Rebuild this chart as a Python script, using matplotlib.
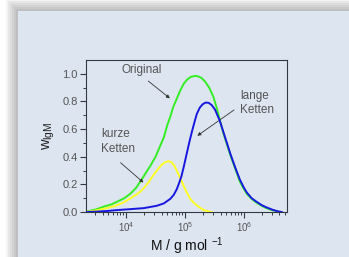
import matplotlib
matplotlib.use('Agg')
import matplotlib.pyplot as plt
import numpy as np
from matplotlib.patches import Rectangle

plt.rcParams['font.family'] = ['Liberation Sans', 'DejaVu Sans']
plt.rcParams['mathtext.default'] = 'regular'

# lg(M) positions and w values
lg_orig = [3.32, 3.40, 3.50, 3.63, 3.75, 3.85, 3.97, 4.08, 4.17, 4.25, 4.33, 4.42, 4.50,
           4.58, 4.64, 4.70, 4.75, 4.80, 4.86, 4.92, 4.98, 5.04, 5.10, 5.17, 5.22, 5.28,
           5.34, 5.41, 5.48, 5.54, 5.59, 5.65, 5.71, 5.77, 5.82, 5.88, 5.93, 6.00, 6.05,
           6.13, 6.21, 6.30, 6.38, 6.48, 6.58, 6.62]
w_orig = [0.0, 0.01, 0.02, 0.04, 0.055, 0.075, 0.10, 0.135, 0.175, 0.225, 0.28, 0.34, 0.40,
          0.48, 0.54, 0.63, 0.69, 0.76, 0.82, 0.88, 0.93, 0.96, 0.978, 0.985, 0.982, 0.97,
          0.944, 0.90, 0.835, 0.75, 0.667, 0.57, 0.49, 0.41, 0.35, 0.28, 0.22, 0.165, 0.13,
          0.095, 0.068, 0.045, 0.028, 0.013, 0.003, 0.0]

lg_lang = [3.32, 3.50, 3.70, 3.85, 4.05, 4.30, 4.52, 4.64, 4.75, 4.81, 4.86, 4.90, 4.94,
           4.98, 5.03, 5.07, 5.11, 5.16, 5.20, 5.25, 5.30, 5.35, 5.40, 5.45, 5.51, 5.55,
           5.59, 5.65, 5.71, 5.77, 5.82, 5.88, 5.93, 6.00, 6.05, 6.13, 6.21, 6.30, 6.38,
           6.48, 6.58, 6.64]
w_lang = [0.0, 0.003, 0.008, 0.014, 0.02, 0.028, 0.045, 0.062, 0.095, 0.125, 0.165, 0.21,
          0.26, 0.33, 0.425, 0.50, 0.57, 0.65, 0.71, 0.755, 0.78, 0.792, 0.79, 0.775, 0.74,
          0.70, 0.66, 0.58, 0.50, 0.42, 0.36, 0.29, 0.235, 0.175, 0.14, 0.10, 0.075, 0.05,
          0.034, 0.017, 0.004, 0.0]

lg_kurz = [3.32, 3.40, 3.50, 3.63, 3.75, 3.85, 3.97, 4.08, 4.17, 4.24, 4.305, 4.38, 4.46,
           4.53, 4.60, 4.66, 4.72, 4.77, 4.82, 4.86, 4.92, 4.97, 5.02, 5.08, 5.15, 5.225,
           5.30, 5.38, 5.45]
w_kurz = [0.0, 0.005, 0.012, 0.024, 0.036, 0.05, 0.072, 0.10, 0.125, 0.147, 0.175, 0.215,
          0.265, 0.305, 0.34, 0.36, 0.367, 0.36, 0.335, 0.30, 0.245, 0.196, 0.15, 0.10,
          0.065, 0.04, 0.018, 0.006, 0.0]

W, H = 349, 257
fig = plt.figure(figsize=(W / 100, H / 100), dpi=100)
fig.patch.set_facecolor('white')

# panel with soft shadow on left and top
px, py = 18, 11
for d in range(12, 0, -2):
    fig.patches.append(Rectangle(((px - d) / W, -0.1), 1.2, 1 - (py - d) / H + 0.1,
                                 transform=fig.transFigure, facecolor='#333333', alpha=0.06,
                                 edgecolor='none', zorder=0))
fig.patches.append(Rectangle((px / W, -0.1), 1.2, 1 - py / H + 0.1,
                             transform=fig.transFigure, facecolor='#dce5f0',
                             edgecolor='none', zorder=1))

ax = fig.add_axes([86 / W, 1 - 212 / H, 201 / W, 152 / H])
ax.set_facecolor('#dce5f0')
ax.set_zorder(2)

ax.plot(10 ** np.array(lg_orig), w_orig, color='#33ee22', lw=1.4, zorder=2)
ax.plot(10 ** np.array(lg_kurz), w_kurz, color='#ffff22', lw=1.4, zorder=3)
ax.plot(10 ** np.array(lg_lang), w_lang, color='#1818e0', lw=1.4, zorder=4)

ax.set_xscale('log')
ax.set_xlim(10 ** 3.32, 10 ** 6.73)
ax.set_ylim(0, 1.10)
ax.set_yticks([0, 0.2, 0.4, 0.6, 0.8, 1.0])
ax.set_yticks(np.arange(0.1, 1.1, 0.2), minor=True)
ax.set_xticks([1e4, 1e5, 1e6])
ax.set_xticklabels(['10$^4$', '10$^5$', '10$^6$'])

for s in ['left', 'bottom', 'right', 'top']:
    ax.spines[s].set_color('#333a44')
    ax.spines[s].set_linewidth(0.8)
ax.tick_params(which='major', direction='out', length=4, width=0.8, color='#333a44',
               labelsize=8, labelcolor='#555555', pad=2)
ax.tick_params(which='minor', direction='out', length=2.5, width=0.7, color='#333a44')
ax.tick_params(axis='x', labelsize=7)
ax.tick_params(right=False, top=False, which='both')

ax.set_xlabel('M / g mol $^{-1}$', fontsize=10, color='#111111', labelpad=1)
ax.set_ylabel('w$_{lgM}$', fontsize=10.5, color='#222222', labelpad=4)

txt = dict(fontsize=8.5, color='#555555')
ax.text(10 ** 3.92, 1.03, 'Original', ha='left', va='center', **txt)
ax.text(10 ** 5.93, 0.79, 'lange\nKetten', ha='left', va='center', linespacing=1.25, **txt)
ax.text(10 ** 3.58, 0.51, 'kurze\nKetten', ha='left', va='center', linespacing=1.25, **txt)

arr = dict(arrowstyle='-|>', color='#333333', lw=0.6, mutation_scale=5)
ax.annotate('', xy=(10 ** 4.78, 0.81), xytext=(10 ** 4.34, 0.96), arrowprops=arr)
ax.annotate('', xy=(10 ** 5.17, 0.54), xytext=(10 ** 5.87, 0.75), arrowprops=arr)
ax.annotate('', xy=(10 ** 4.33, 0.20), xytext=(10 ** 3.87, 0.37), arrowprops=arr)

fig.savefig('out.png', dpi=100, facecolor=fig.get_facecolor())
